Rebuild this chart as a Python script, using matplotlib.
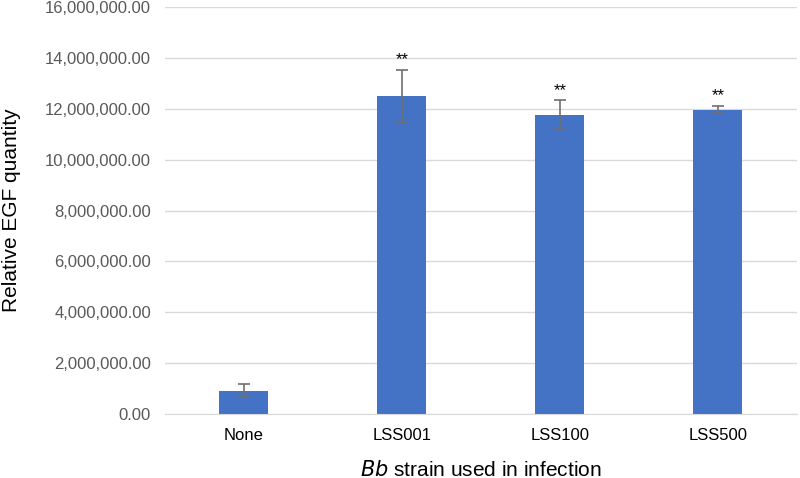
import matplotlib
matplotlib.use("Agg")
import matplotlib.pyplot as plt
from matplotlib.ticker import FuncFormatter

categories = ["None", "LSS001", "LSS100", "LSS500"]
values = [920000, 12490000, 11770000, 11970000]
errors = [240000, 1050000, 560000, 150000]
significance = ["", "**", "**", "**"]
yticks = [0, 2e6, 4e6, 6e6, 8e6, 10e6, 12e6, 14e6, 16e6]

plt.rcParams['font.family'] = ['Liberation Sans', 'DejaVu Sans']

fig = plt.figure(figsize=(8, 4.78), dpi=100)
ax = fig.add_axes([0.206, 0.134, 0.79, 0.851])

x = list(range(len(categories)))
ax.bar(x, values, width=0.31, color="#4472C4", zorder=2)
ax.errorbar(x, values, yerr=errors, fmt="none", ecolor="#707070",
            elinewidth=1.2, capsize=4, capthick=1.2, zorder=3)
for xi, v, e, s in zip(x, values, errors, significance):
    if s:
        ax.text(xi, v + e + 100000, s, ha="center", va="bottom", fontsize=12, color="black")

ax.set_xlim(-0.5, len(categories) - 0.5)
ax.set_ylim(0, 16e6)
ax.set_yticks(yticks)
ax.yaxis.set_major_formatter(FuncFormatter(lambda v, p: f"{v:,.2f}"))
ax.set_xticks(x)
ax.set_xticklabels(categories)
ax.grid(axis="y", color="#D9D9D9", linewidth=1, zorder=0)
for sp in ["top", "right", "left"]:
    ax.spines[sp].set_visible(False)
ax.spines["bottom"].set_color("#D9D9D9")
ax.tick_params(axis="y", length=0, labelsize=12, colors="#595959", pad=10)
ax.tick_params(axis="x", length=0, labelsize=12, colors="black", pad=10)

fig.text(0.014, 0.56, "Relative EGF quantity", rotation=90, fontsize=15,
         color="black", ha="center", va="center")
ax.set_xlabel(r"$\it{Bb}$ strain used in infection", fontsize=15, color="black", labelpad=12)

fig.savefig("out.png", dpi=100)
